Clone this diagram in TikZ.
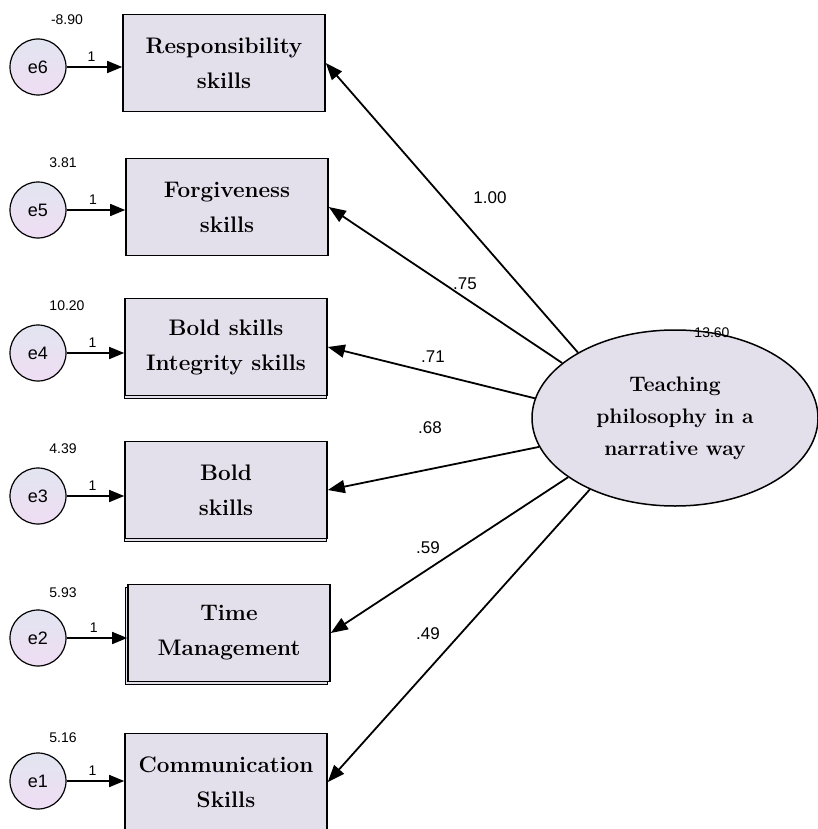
\documentclass[tikz,border=0pt]{standalone}
\usepackage{fontspec}
\newfontfamily\amosfont{Liberation Sans}
\usetikzlibrary{arrows.meta,shadows,shapes.geometric}

\definecolor{boxfill}{RGB}{227,223,235}
\definecolor{errtop}{RGB}{226,229,241}
\definecolor{errbot}{RGB}{239,221,243}

\begin{document}
\begin{tikzpicture}[x=1pt, y=-1pt,
  every node/.style = {align=center},
  obs/.style = {shape=rectangle, draw, line width=1.6pt, fill=boxfill,
    minimum width=202pt, minimum height=97pt, inner sep=0pt,
    font=\fontsize{22.5}{35}\selectfont\bfseries},
  obsshadow/.style = {obs, copy shadow={shadow xshift=#1,
    shadow yshift=-3pt, fill=boxfill, draw, line width=1.2pt}},
  obsshadow/.default = -0.5pt,
  err/.style = {shape=circle, draw, line width=1.2pt, minimum size=56pt,
    inner sep=0pt, top color=errtop, bottom color=errbot,
    font=\amosfont\fontsize{18}{18}\selectfont},
  lat/.style = {shape=ellipse, draw, line width=1.5pt, fill=boxfill,
    minimum width=286pt, minimum height=176pt, inner sep=0pt,
    font=\fontsize{21}{32}\selectfont\bfseries},
  num/.style = {font=\amosfont\fontsize{14}{14}\selectfont, inner sep=0pt},
  coef/.style = {font=\amosfont\fontsize{17}{17}\selectfont, inner sep=0pt},
  path/.style = {-{Triangle[length=17pt,width=13pt]}, line width=1.8pt},
  unit/.style = {-{Triangle[length=15pt,width=12pt]}, line width=1.5pt}]
  \useasboundingbox (0,0) rectangle (817,829);

  % latent factor
  \node[lat] (f) at (675,418) {Teaching\\philosophy in a\\narrative way};
  \node[num] (vf) at (712,333) {13.60};

  % indicators
  \node[obs] (v6) at (224,63) {Responsibility\\skills};
  \node[obs] (v5) at (227,207) {Forgiveness\\skills};
  \node[obsshadow] (v4) at (226,347) {Bold skills\\Integrity skills};
  \node[obsshadow] (v3) at (226,490) {Bold\\skills};
  \node[obsshadow=-2.5pt] (v2) at (229,633) {Time\\Management};
  \node[obs] (v1) at (226,782) {Communication\\Skills};

  % error terms
  \node[err] (e6) at (38,67) {e6};
  \node[err] (e5) at (38,210) {e5};
  \node[err] (e4) at (38,353) {e4};
  \node[err] (e3) at (38,496) {e3};
  \node[err] (e2) at (38,638) {e2};
  \node[err] (e1) at (38,781) {e1};

  \node[num] (ve6) at (67,20) {-8.90};
  \node[num] (ve5) at (63,163) {3.81};
  \node[num] (ve4) at (67,306) {10.20};
  \node[num] (ve3) at (63,449) {4.39};
  \node[num] (ve2) at (63,593) {5.93};
  \node[num] (ve1) at (63,738) {5.16};

  \foreach \i in {1,...,6} {
    \draw[unit] (e\i) -- (e\i -| v\i.west)
      node[num, pos=0.45, above=5pt] {1};
  }

  % loadings
  \draw[path] (f.146) -- (v6.east);
  \draw[path] (f.154) -- (v5.east);
  \draw[path] (f.172) -- (v4.east);
  \draw[path] (f.192) -- (v3.east);
  \draw[path] (f.209) -- (v2.east);
  \draw[path] (f.220) -- (v1.east);

  \node[coef] (l6) at (490,198) {1.00};
  \node[coef] (l5) at (465,284) {.75};
  \node[coef] (l4) at (433,357) {.71};
  \node[coef] (l3) at (430,428) {.68};
  \node[coef] (l2) at (428,548) {.59};
  \node[coef] (l1) at (428,634) {.49};
\end{tikzpicture}
\end{document}
